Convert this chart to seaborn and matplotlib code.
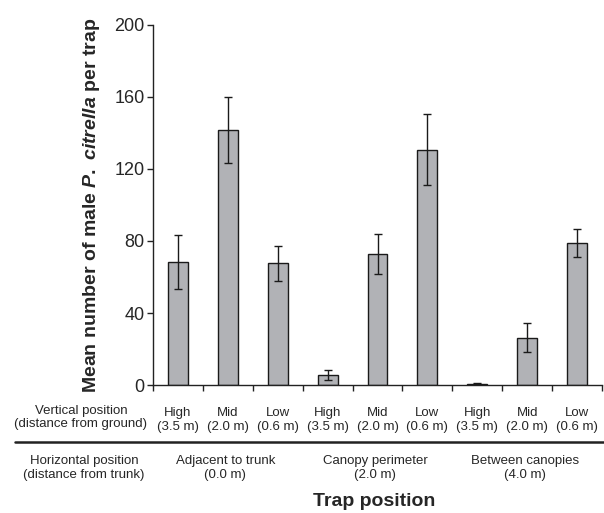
import matplotlib
matplotlib.use("Agg")
import matplotlib.pyplot as plt
from matplotlib.lines import Line2D
import numpy as np
import pandas as pd
import seaborn as sns

# Values
heights = ["High\n(3.5 m)", "Mid\n(2.0 m)", "Low\n(0.6 m)"] * 3
groups = ["Adjacent to trunk\n(0.0 m)", "Canopy perimeter\n(2.0 m)", "Between canopies\n(4.0 m)"]
means = [68.5, 141.7, 67.6, 5.6, 72.8, 130.7, 0.7, 26.3, 78.9]
errors = [15.0, 18.2, 9.6, 2.7, 11.3, 19.6, 0.3, 8.0, 7.6]
y_ticks = [0, 40, 80, 120, 160, 200]

sns.set_style("ticks")
plt.rcParams["font.family"] = ["Liberation Sans", "DejaVu Sans"]
plt.rcParams["mathtext.fontset"] = "custom"
plt.rcParams["mathtext.it"] = "Liberation Sans:italic:bold"
plt.rcParams["mathtext.rm"] = "Liberation Sans:bold"

df = pd.DataFrame({"pos": [str(i) for i in range(len(means))], "mean": means})

fig = plt.figure(figsize=(6.04, 5.13), dpi=100)
ax = fig.add_axes([0.253, 0.2495, 0.744, 0.7018])

sns.barplot(data=df, x="pos", y="mean", color="#b1b2b6", saturation=1,
            width=0.4, edgecolor="#1a1a1a", linewidth=1.0, errorbar=None, ax=ax)
ax.errorbar(np.arange(len(means)), means, yerr=errors, fmt="none",
            ecolor="#1a1a1a", elinewidth=1.0, capsize=3, capthick=1.0)

ax.set_xlim(-0.5, len(means) - 0.5)
ax.set_ylim(0, 200)
ax.set_yticks(y_ticks)
ax.tick_params(axis="y", labelsize=13, length=4, width=1, color="#222222", pad=2)

# category labels at bar centres, tick marks at category boundaries
ax.set_xticks(np.arange(len(means)))
ax.set_xticklabels(heights, fontsize=9.5, linespacing=1.15)
ax.tick_params(axis="x", which="major", length=0, pad=16)
ax.set_xticks(np.arange(len(means) + 1) - 0.5, minor=True)
ax.tick_params(axis="x", which="minor", length=4, width=1, color="#222222")
ax.set_xlabel("")

ax.set_ylabel(r"Mean number of male $\mathit{P.}$ $\mathit{citrella}$ per trap",
              fontsize=14, fontweight="bold", labelpad=9)

for s in ["top", "right"]:
    ax.spines[s].set_visible(False)
for s in ["left", "bottom"]:
    ax.spines[s].set_color("#222222")
    ax.spines[s].set_linewidth(1.0)

fig.text(0.134, 0.186, "Vertical position\n(distance from ground)", ha="center",
         va="center", fontsize=9.5, linespacing=1.15)
fig.add_artist(Line2D([0.025, 1.0], [0.1384, 0.1384], color="#222222", lw=1.8))
fig.text(0.139, 0.0877, "Horizontal position\n(distance from trunk)", ha="center",
         va="center", fontsize=9.5, linespacing=1.15)

trans = matplotlib.transforms.blended_transform_factory(ax.transData, fig.transFigure)
for i, g in enumerate(groups):
    ax.text(3 * i + 0.95, 0.0877, g, transform=trans, ha="center", va="center",
            fontsize=9.5, linespacing=1.15)

fig.text(0.62, 0.0215, "Trap position", ha="center", va="center",
         fontsize=14, fontweight="bold")

fig.savefig("out.png", dpi=100)
